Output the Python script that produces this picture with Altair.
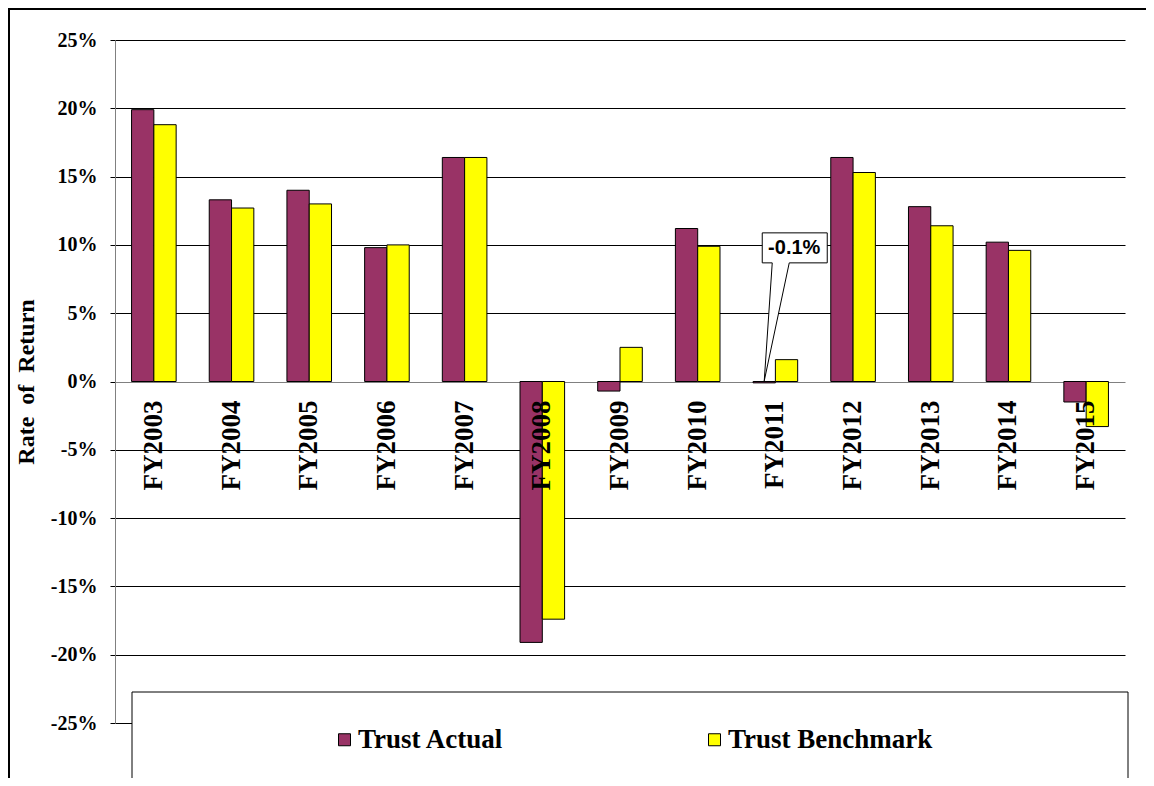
import altair as alt
import pandas as pd

years = ["FY2003", "FY2004", "FY2005", "FY2006", "FY2007", "FY2008", "FY2009",
         "FY2010", "FY2011", "FY2012", "FY2013", "FY2014", "FY2015"]
trust_actual = [19.9, 13.3, 14.0, 9.8, 16.4, -19.1, -0.7, 11.2, -0.1, 16.4, 12.8, 10.2, -1.5]
trust_benchmark = [18.8, 12.7, 13.0, 10.0, 16.4, -17.4, 2.5, 9.9, 1.6, 15.3, 11.4, 9.6, -3.3]
series = ["Trust Actual", "Trust Benchmark"]
colors = ["#993366", "#FFFF00"]
y_ticks = [-25, -20, -15, -10, -5, 0, 5, 10, 15, 20, 25]
callout_year = "FY2011"
callout_series = "Trust Actual"
y_title = "Rate\u00a0 of\u00a0 Return"

rows = []
for i, yr in enumerate(years):
    rows.append({"year": yr, "series": series[0], "value": trust_actual[i]})
    rows.append({"year": yr, "series": series[1], "value": trust_benchmark[i]})
df = pd.DataFrame(rows)

SERIF = "Liberation Serif"

x_enc = alt.X(
    "year:N", sort=years,
    scale=alt.Scale(paddingInner=0.426, paddingOuter=0.213),
    axis=alt.Axis(
        title=None, orient="bottom", offset=-342, domain=False, ticks=False,
        labelAngle=270, labelAlign="right", labelBaseline="middle", labelPadding=19,
        labelFont=SERIF, labelFontSize=27, labelFontWeight="bold", labelColor="black",
        labelOverlap=False, labelBound=False, zindex=1,
    ),
)
xoff_enc = alt.XOffset("series:N", sort=series, scale=alt.Scale(paddingInner=0, paddingOuter=0))
y_enc = alt.Y(
    "value:Q",
    scale=alt.Scale(domain=[-25, 25], nice=False, zero=False),
    axis=alt.Axis(
        values=y_ticks, labelExpr="datum.value + '%'",
        labelFont=SERIF, labelFontSize=20, labelFontWeight="bold", labelColor="black",
        labelPadding=13, tickSize=5, tickColor="black", domainColor="#808080",
        gridColor={"condition": {"test": "datum.value === 0", "value": "#808080"}, "value": "#000000"},
        gridWidth=1, gridOpacity=1,
        title=y_title, titleFont=SERIF, titleFontSize=24, titleFontWeight="bold",
        titleColor="black", titleX=-82, titleY=341.5, titleAngle=270, titleBaseline="alphabetic",
    ),
)

bars = alt.Chart(df).mark_bar(stroke="black", strokeWidth=1).encode(
    x=x_enc,
    xOffset=xoff_enc,
    y=y_enc,
    color=alt.Color(
        "series:N", sort=series,
        scale=alt.Scale(domain=series, range=colors),
        legend=alt.Legend(
            orient="none", legendX=216, legendY=686, direction="horizontal", title=None,
            symbolType="square", symbolSize=144, symbolStrokeColor="black", symbolStrokeWidth=1,
            symbolOpacity=1, labelFont=SERIF, labelFontSize=27, labelFontWeight="bold",
            labelColor="black", labelOffset=0, labelLimit=600, columnPadding=197, padding=0,
        ),
    ),
)

callout_df = df[(df.year == callout_year) & (df.series == callout_series)]
pointer_path = "M0,-2 L8,-120 L-2,-120 L-2,-150 L63,-150 L63,-120 L25,-120 Z"
pointer = alt.Chart(callout_df).mark_point(
    shape=pointer_path, size=4, filled=True, fill="white", stroke="black",
    strokeWidth=1, opacity=1,
).encode(
    x=alt.X("year:N", sort=years),
    xOffset=alt.XOffset("series:N", sort=series),
    y=alt.Y("value:Q"),
)
callout_text = alt.Chart(callout_df).transform_calculate(
    label="(datum.value < 0 ? '-' : '') + format(abs(datum.value), '.1f') + '%'"
).mark_text(
    dx=30, dy=-135, font="Liberation Sans", fontWeight="bold", fontSize=20,
    color="black", align="center", baseline="middle",
).encode(
    x=alt.X("year:N", sort=years),
    xOffset=alt.XOffset("series:N", sort=series),
    y=alt.Y("value:Q"),
    text="label:N",
)

one = pd.DataFrame({"k": [0]})
frame = alt.Chart(one).mark_rect(fill="white", fillOpacity=0, stroke="black", strokeWidth=2).encode(
    x=alt.value(-106), x2=alt.value(1300), y=alt.value(-31), y2=alt.value(1000)
)
legend_box = alt.Chart(one).mark_rect(fill="white", stroke="black", strokeWidth=1).encode(
    x=alt.value(17), x2=alt.value(1013), y=alt.value(652), y2=alt.value(746)
)

chart = alt.layer(frame, bars, pointer, callout_text, legend_box).properties(
    width=1010, height=683,
    autosize=alt.AutoSizeParams(type="none"),
    padding={"left": 107, "top": 32, "right": 21, "bottom": 55},
).configure_view(stroke=None)

chart.save("out.html", embed_options={"renderer": "svg", "actions": False})
